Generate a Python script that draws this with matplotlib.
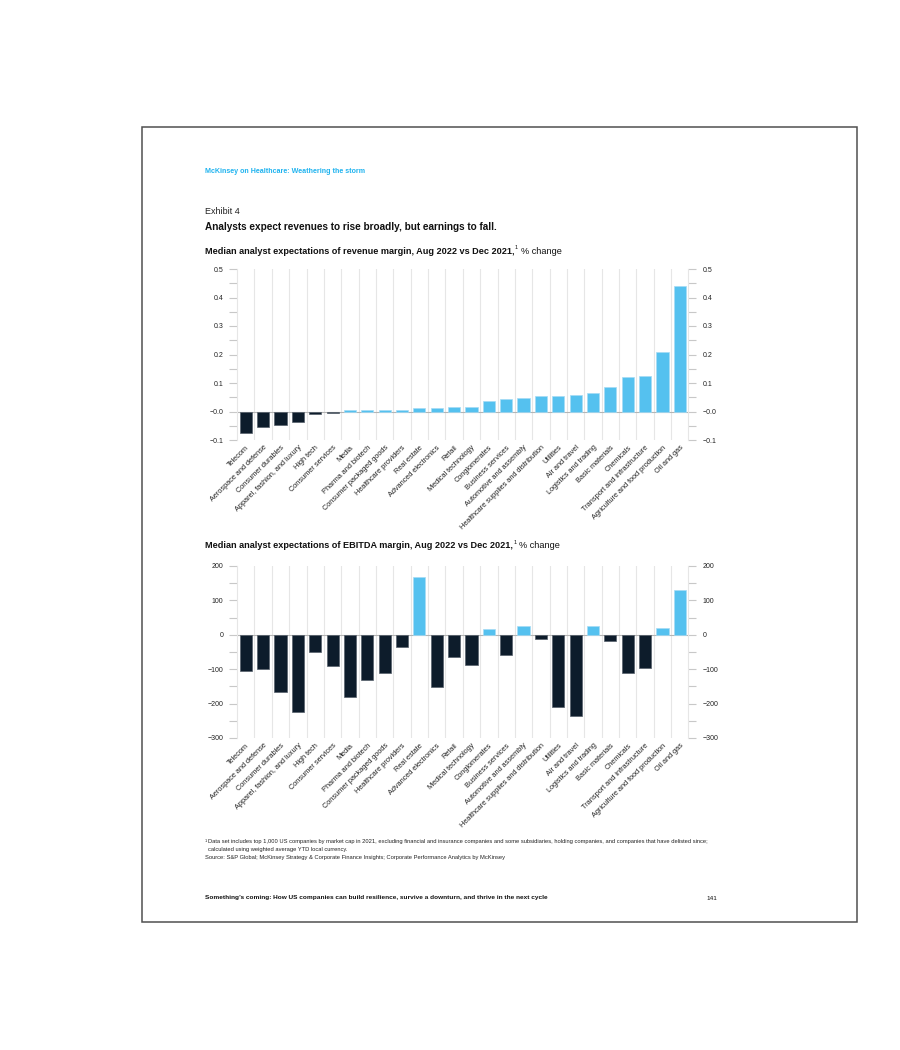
import matplotlib
matplotlib.use("Agg")
import matplotlib.pyplot as plt
from matplotlib.patches import Rectangle
from matplotlib.ticker import FixedLocator, FixedFormatter, MultipleLocator

plt.rcParams['font.family'] = ['Liberation Sans', 'DejaVu Sans']

categories = ["Telecom", "Aerospace and defense", "Consumer durables",
              "Apparel, fashion, and luxury", "High tech", "Consumer services",
              "Media", "Pharma and biotech", "Consumer packaged goods",
              "Healthcare providers", "Real estate", "Advanced electronics",
              "Retail", "Medical technology", "Conglomerates", "Business services",
              "Automotive and assembly", "Healthcare supplies and distribution",
              "Utilities", "Air and travel", "Logistics and trading",
              "Basic materials", "Chemicals", "Transport and infrastructure",
              "Agriculture and food production", "Oil and gas"]

revenue_change = [-0.076, -0.056, -0.048, -0.036, -0.009, -0.006,
                  0.004, 0.004, 0.005, 0.005, 0.011, 0.014,
                  0.015, 0.016, 0.036, 0.043, 0.046, 0.053,
                  0.056, 0.058, 0.065, 0.086, 0.122, 0.126,
                  0.210, 0.441]

ebitda_change = [-105, -98, -166, -225, -49, -92,
                 -180, -131, -112, -35, 167, -152,
                 -65, -88, 16, -59, 26, -12,
                 -210, -237, 27, -17, -110, -96,
                 19, 130]

rev_ticks = [0.5, 0.4, 0.3, 0.2, 0.1, 0.0, -0.1]
rev_tick_labels = ["0.5", "0.4", "0.3", "0.2", "0.1", "\u22120.0", "\u22120.1"]
ebitda_ticks = [200, 100, 0, -100, -200, -300]
ebitda_tick_labels = ["200", "100", "0", "\u2212100", "\u2212200", "\u2212300"]

title_header = "McKinsey on Healthcare: Weathering the storm"
exhibit = "Exhibit 4"
title = "Analysts expect revenues to rise broadly, but earnings to fall."
sub1 = "Median analyst expectations of revenue margin, Aug 2022 vs Dec 2021,"
sub2 = "Median analyst expectations of EBITDA margin, Aug 2022 vs Dec 2021,"
footnote1 = ("Data set includes top 1,000 US companies by market cap in 2021, excluding financial and "
             "insurance companies and some subsidiaries, holding companies, and companies that have delisted since;")
footnote2 = "calculated using weighted average YTD local currency."
source = "Source: S&P Global; McKinsey Strategy & Corporate Finance Insights; Corporate Performance Analytics by McKinsey"
footer = "Something\u2019s coming: How US companies can build resilience, survive a downturn, and thrive in the next cycle"
page_no = "141"

DARK = "#0d1c2b"
LIGHT = "#55c1ef"
GRID = "#e6e6e6"
TICK = "#c8c8c8"

W, H = 900, 1050
fig = plt.figure(figsize=(W / 100, H / 100), dpi=100)
fig.patch.set_facecolor("white")


def fx(px):
    return px / W


def fy(py):
    return 1 - py / H


# page border
fig.patches.append(Rectangle((fx(142), fy(922)), fx(857) - fx(142), fy(127) - fy(922),
                             transform=fig.transFigure, fill=False,
                             edgecolor="#505050", linewidth=1.1))


def make_axes(top_px, bottom_px, values, ylim, ticks, labels, minor_step):
    left_px, right_px = 237.1, 688.5
    ax = fig.add_axes([fx(left_px), fy(bottom_px), fx(right_px) - fx(left_px),
                       fy(top_px) - fy(bottom_px)])
    n = len(values)
    xs = list(range(n))
    colors = [DARK if v < 0 else LIGHT for v in values]
    edges = ["#56606b" if v < 0 else "#a6dcf5" for v in values]
    ax.bar(xs, values, width=0.7, color=colors, edgecolor=edges, linewidth=0.5, zorder=3)
    ax.set_xlim(-0.5, n - 0.5)
    ax.set_ylim(*ylim)
    for b in range(1, n):
        ax.axvline(b - 0.5, color=GRID, linewidth=0.8, zorder=1)
    ax.axhline(0, color="#b5b5b5", linewidth=0.8, zorder=2)
    for s in ["top", "bottom"]:
        ax.spines[s].set_visible(False)
    for s in ["left", "right"]:
        ax.spines[s].set_color(GRID)
        ax.spines[s].set_linewidth(0.8)
    ax.yaxis.set_major_locator(FixedLocator(ticks))
    ax.yaxis.set_major_formatter(FixedFormatter(labels))
    ax.yaxis.set_minor_locator(MultipleLocator(minor_step))
    ax.tick_params(axis="y", which="both", left=True, right=True, labelleft=True,
                   labelright=True, direction="out", length=6, width=0.8,
                   color=TICK, labelsize=5, labelcolor="#222222", pad=4)
    ax.set_xticks(xs)
    ax.set_xticklabels(categories, rotation=45, ha="right", va="top",
                       rotation_mode="anchor", fontsize=5.3, color="#222222")
    ax.tick_params(axis="x", length=0, pad=3)
    ax.set_facecolor("none")
    return ax


make_axes(269, 440, revenue_change, (-0.1, 0.5), rev_ticks, rev_tick_labels, 0.05)
make_axes(566, 738, ebitda_change, (-300, 200), ebitda_ticks, ebitda_tick_labels, 50)

X0 = 205
fig.text(fx(X0), fy(171.5), title_header, fontsize=5.1, fontweight="bold",
         color="#1fb3ef", va="center")
fig.text(fx(X0), fy(211), exhibit, fontsize=6.5, color="#222222", va="center")
fig.text(fx(X0), fy(227), title, fontsize=7.2, fontweight="bold", color="#111111", va="center")

renderer = fig.canvas.get_renderer()


def subtitle(y, text):
    t = fig.text(fx(X0), fy(y), text, fontsize=6.6, fontweight="bold", color="#111111",
                 va="center")
    bb = t.get_window_extent(renderer)
    x_end = bb.x1
    sup = fig.text(x_end / W + fx(0.5), fy(y - 3.5), "1", fontsize=4.0, color="#111111",
                   va="center")
    bb2 = sup.get_window_extent(renderer)
    fig.text(bb2.x1 / W + fx(2.5), fy(y), "% change", fontsize=6.6, color="#111111",
             va="center")


subtitle(251, sub1)
subtitle(546, sub2)

fig.text(fx(X0), fy(840.5), "1", fontsize=2.8, color="#222222", va="center")
fig.text(fx(X0 + 3), fy(841.5), footnote1, fontsize=4.15, color="#222222", va="center")
fig.text(fx(X0 + 3), fy(849.5), footnote2, fontsize=4.15, color="#222222", va="center")
fig.text(fx(X0), fy(857.5), source, fontsize=4.15, color="#222222", va="center")
fig.text(fx(X0), fy(898), footer, fontsize=4.65, fontweight="bold", color="#111111", va="center")
fig.text(fx(717), fy(898), page_no, fontsize=4.6, color="#111111", va="center", ha="right")

fig.savefig("out.png", dpi=100, facecolor="white")
